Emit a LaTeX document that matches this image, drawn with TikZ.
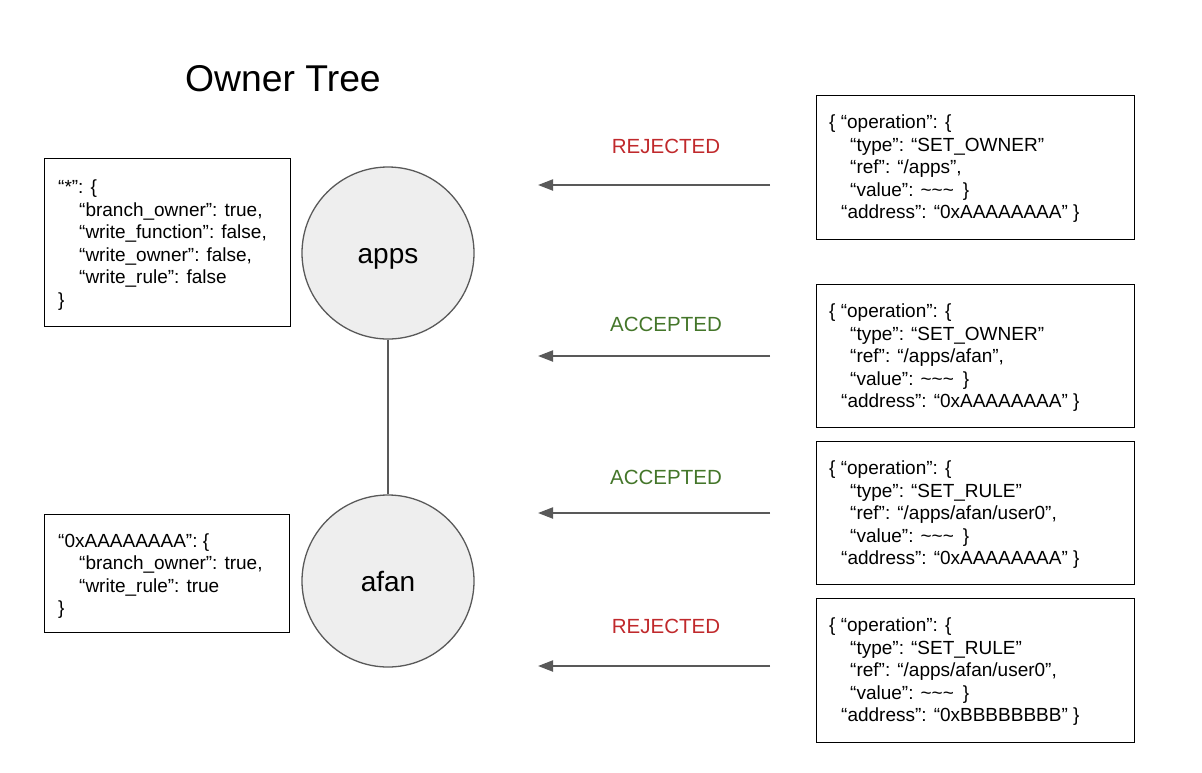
\documentclass[tikz,border=0pt]{standalone}
\usepackage{fontspec}
\setmainfont{Liberation Sans}
\usetikzlibrary{arrows.meta}
\definecolor{linegray}{HTML}{595959}
\definecolor{nodefill}{HTML}{EEEEEE}
\definecolor{rejred}{HTML}{C0292C}
\definecolor{accgreen}{HTML}{44762A}
\newcommand{\tl}{\textasciitilde}
\newcommand{\ind}[1]{\hspace*{#1pt}}
\begin{document}
\begin{tikzpicture}[x=1pt,y=-1pt,
  treenode/.style={circle,draw=linegray,fill=nodefill,line width=1.3pt,minimum size=172pt,inner sep=0pt,text height=26pt,text depth=6pt,font=\fontsize{28}{32}\selectfont},
  infobox/.style={draw=black,line width=1.3pt,anchor=north west,inner sep=0pt},
  boxtext/.style={anchor=base west,inner sep=0pt,font=\fontsize{19}{22.6}\selectfont},
  conn/.style={draw=linegray,line width=1.3pt},
  arr/.style={draw=linegray,line width=2pt,-{Triangle[length=15pt,width=11pt]}},
  status/.style={font=\fontsize{20.5}{24}\selectfont,anchor=base}
]
\useasboundingbox (0,0) rectangle (1202,772);

% title
\node[anchor=base west,inner sep=0pt,font=\fontsize{37.3}{42}\selectfont] (title) at (185,91) {Owner Tree};

% tree nodes
\node[treenode] (apps) at (388,253) {apps};
\node[treenode] (afan) at (388,581) {afan};
\draw[conn] (apps.south) -- (afan.north);

% left boxes
\node[infobox,minimum width=246pt,minimum height=168pt] (lb1) at (44,158) {};
\node[boxtext] (lt1) at (58,193.5) {\begin{tabular}[t]{@{}l@{}}“*”: \{\\
\ind{21}“branch\_owner”: true,\\
\ind{21}“write\_function”: false,\\
\ind{21}“write\_owner”: false,\\
\ind{21}“write\_rule”: false\\
\}\end{tabular}};

\node[infobox,minimum width=245pt,minimum height=118pt] (lb2) at (44,514) {};
\node[boxtext] (lt2) at (58,547) {\begin{tabular}[t]{@{}l@{}}“0xAAAAAAAA”: \{\\
\ind{21}“branch\_owner”: true,\\
\ind{21}“write\_rule”: true\\
\}\end{tabular}};

% right boxes
\node[infobox,minimum width=318pt,minimum height=144pt] (rb1) at (816,95) {};
\node[boxtext] (rt1) at (829,128.5) {\begin{tabular}[t]{@{}l@{}}\{ “operation”: \{\\
\ind{21}“type”: “SET\_OWNER”\\
\ind{21}“ref”: “/apps”,\\
\ind{21}“value”: \tl\tl\tl\ind{9}\}\\
\ind{12}“address”: “0xAAAAAAAA” \}\end{tabular}};

\node[infobox,minimum width=318pt,minimum height=143pt] (rb2) at (816,284) {};
\node[boxtext] (rt2) at (829,317.5) {\begin{tabular}[t]{@{}l@{}}\{ “operation”: \{\\
\ind{21}“type”: “SET\_OWNER”\\
\ind{21}“ref”: “/apps/afan”,\\
\ind{21}“value”: \tl\tl\tl\ind{9}\}\\
\ind{12}“address”: “0xAAAAAAAA” \}\end{tabular}};

\node[infobox,minimum width=318pt,minimum height=143pt] (rb3) at (816,441) {};
\node[boxtext] (rt3) at (829,474.5) {\begin{tabular}[t]{@{}l@{}}\{ “operation”: \{\\
\ind{21}“type”: “SET\_RULE”\\
\ind{21}“ref”: “/apps/afan/user0”,\\
\ind{21}“value”: \tl\tl\tl\ind{9}\}\\
\ind{12}“address”: “0xAAAAAAAA” \}\end{tabular}};

\node[infobox,minimum width=318pt,minimum height=144pt] (rb4) at (816,598) {};
\node[boxtext] (rt4) at (829,631.5) {\begin{tabular}[t]{@{}l@{}}\{ “operation”: \{\\
\ind{21}“type”: “SET\_RULE”\\
\ind{21}“ref”: “/apps/afan/user0”,\\
\ind{21}“value”: \tl\tl\tl\ind{9}\}\\
\ind{12}“address”: “0xBBBBBBBB” \}\end{tabular}};

% arrows
\coordinate (s1) at (770,185); \coordinate (e1) at (538,185);
\coordinate (s2) at (770,356); \coordinate (e2) at (538,356);
\coordinate (s3) at (770,513); \coordinate (e3) at (538,513);
\coordinate (s4) at (770,666); \coordinate (e4) at (538,666);
\draw[arr] (s1) -- (e1);
\draw[arr] (s2) -- (e2);
\draw[arr] (s3) -- (e3);
\draw[arr] (s4) -- (e4);

% status labels
\node[status,text=rejred] (l1) at (666,153) {REJECTED};
\node[status,text=accgreen] (l2) at (666,331) {ACCEPTED};
\node[status,text=accgreen] (l3) at (666,484) {ACCEPTED};
\node[status,text=rejred] (l4) at (666,633) {REJECTED};
\end{tikzpicture}
\end{document}
